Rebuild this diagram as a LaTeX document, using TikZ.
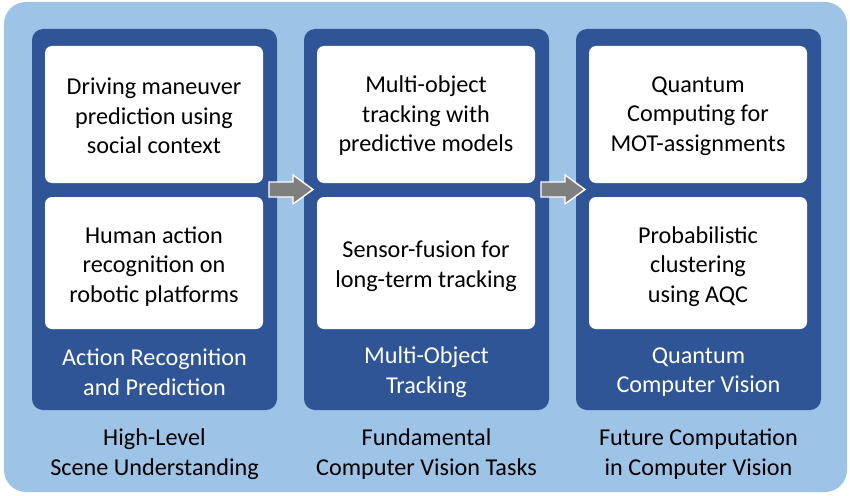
\documentclass[tikz,border=0pt]{standalone}
\usepackage{fontspec}
\setmainfont{Carlito}
\definecolor{bglight}{HTML}{9DC3E6}
\definecolor{darkpanel}{HTML}{2F5597}
\definecolor{arrowgray}{HTML}{7F7F7F}
\tikzset{
  txt/.style={font=\fontsize{24.2}{29.5}\selectfont, align=center, inner sep=0pt},
  panel/.style={fill=darkpanel, rounded corners=11pt, minimum width=245pt, minimum height=381pt, inner sep=0pt},
  wbox/.style={fill=white, rounded corners=7pt, minimum width=218pt, inner sep=0pt},
  plabel/.style={txt, text=white},
  blabel/.style={txt, text=black},
  btext/.style={txt, text=black},
  blockarrow/.style={fill=arrowgray, draw=white, line width=1.4pt, line join=miter}
}
\begin{document}
\begin{tikzpicture}[x=1pt,y=-1pt]
\useasboundingbox (0,0) rectangle (850,495);
\fill[bglight, rounded corners=22pt] (4,2) rectangle (847,492);
% panels
\node[panel] (p1) at (154.5,219.5) {};
\node[panel] (p2) at (426.5,219.5) {};
\node[panel] (p3) at (698.5,219.5) {};
% white boxes
\node[wbox, minimum height=137pt] (b11) at (154,114.5) {};
\node[wbox, minimum height=132pt] (b12) at (154,263) {};
\node[wbox, minimum height=137pt] (b21) at (426,114.5) {};
\node[wbox, minimum height=132pt] (b22) at (426,263) {};
\node[wbox, minimum height=137pt] (b31) at (698,114.5) {};
\node[wbox, minimum height=132pt] (b32) at (698,263) {};
\node[btext] (t11) at ([yshift=-1.5pt]b11.center) {Driving maneuver\\prediction using\\social context};
\node[btext] (t12) at ([yshift=-3.5pt]b12.center) {Human action\\recognition on\\robotic platforms};
\node[btext] (t21) at ([yshift=-1.5pt]b21.center) {Multi-object\\tracking with\\predictive models};
\node[btext] (t22) at ([yshift=-3.5pt]b22.center) {Sensor-fusion for\\long-term tracking};
\node[btext] (t31) at ([yshift=-1.5pt]b31.center) {Quantum\\Computing for\\MOT-assignments};
\node[btext] (t32) at ([yshift=-3.5pt]b32.center) {Probabilistic\\clustering\\using AQC};
% panel labels
\node[plabel] (l1) at (154.5,372) {Action Recognition\\and Prediction};
\node[plabel] (l2) at (426.5,372) {Multi-Object\\Tracking};
\node[plabel] (l3) at (698.5,372) {Quantum\\Computer Vision};
% bottom labels
\node[blabel] (c1) at (154.5,454) {High-Level\\Scene Understanding};
\node[blabel] (c2) at (426.5,454) {Fundamental\\Computer Vision Tasks};
\node[blabel] (c3) at (698.5,454) {Future Computation\\in Computer Vision};
% block arrows
\draw[blockarrow] (269,182) -- (293,182) -- (293,175) -- (313,189.5) -- (293,204) -- (293,197) -- (269,197) -- cycle;
\draw[blockarrow] (541,182) -- (565,182) -- (565,175) -- (585,189.5) -- (565,204) -- (565,197) -- (541,197) -- cycle;
\end{tikzpicture}
\end{document}
